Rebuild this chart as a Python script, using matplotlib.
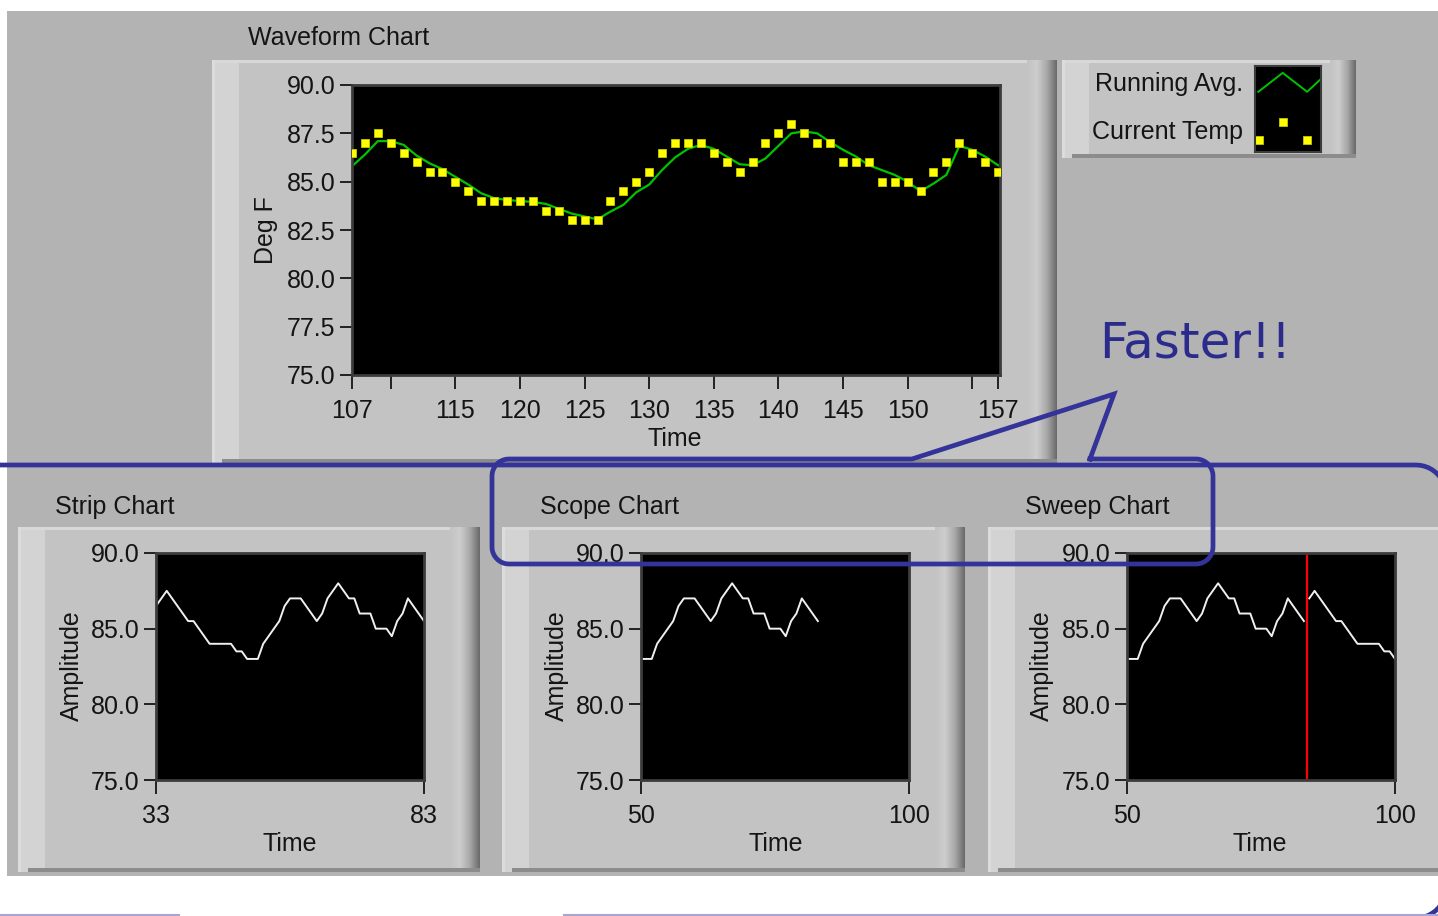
import numpy as np
import matplotlib
matplotlib.use('Agg')
import matplotlib.pyplot as plt
from matplotlib.patches import Rectangle
from matplotlib.colors import LinearSegmentedColormap
from matplotlib import font_manager

# ---------------- data ----------------
wave_time = list(range(107, 158))
current_temp = [86.5, 87.0, 87.5, 87.0, 86.5, 86.0, 85.5, 85.5, 85.0, 84.5,
                84.0, 84.0, 84.0, 84.0, 84.0, 83.5, 83.5, 83.0, 83.0, 83.0,
                84.0, 84.5, 85.0, 85.5, 86.5, 87.0, 87.0, 87.0, 86.5, 86.0,
                85.5, 86.0, 87.0, 87.5, 88.0, 87.5, 87.0, 87.0, 86.0, 86.0,
                86.0, 85.0, 85.0, 85.0, 84.5, 85.5, 86.0, 87.0, 86.5, 86.0,
                85.5]
running_avg = [85.8, 86.4, 87.1, 87.1, 86.9, 86.35, 85.95, 85.65, 85.25, 84.85,
               84.4, 84.15, 84.05, 84.0, 83.95, 83.85, 83.6, 83.35, 83.2, 83.05,
               83.45, 83.8, 84.45, 84.85, 85.6, 86.25, 86.7, 86.9, 86.7, 86.3,
               85.9, 85.85, 86.2, 86.85, 87.5, 87.6, 87.5, 87.05, 86.65, 86.3,
               85.85, 85.6, 85.35, 85.0, 84.5, 84.9, 85.35, 86.85, 86.65, 86.3,
               85.85]
wave_xticks = [107, 110, 115, 120, 125, 130, 135, 140, 145, 150, 155, 157]
wave_xticklabels = ['107', '', '115', '120', '125', '130', '135', '140', '145', '150', '', '157']
wave_yticks = [75.0, 77.5, 80.0, 82.5, 85.0, 87.5, 90.0]

strip_time = list(range(33, 84))
strip_values = [86.5, 87.0, 87.5, 87.0, 86.5, 86.0, 85.5, 85.5, 85.0, 84.5,
                84.0, 84.0, 84.0, 84.0, 84.0, 83.5, 83.5, 83.0, 83.0, 83.0,
                84.0, 84.5, 85.0, 85.5, 86.5, 87.0, 87.0, 87.0, 86.5, 86.0,
                85.5, 86.0, 87.0, 87.5, 88.0, 87.5, 87.0, 87.0, 86.0, 86.0,
                86.0, 85.0, 85.0, 85.0, 84.5, 85.5, 86.0, 87.0, 86.5, 86.0,
                85.5]
strip_xticks = [33, 83]

scope_time = list(range(50, 84))
scope_values = [83.0, 83.0, 83.0, 84.0, 84.5, 85.0, 85.5, 86.5, 87.0, 87.0,
                87.0, 86.5, 86.0, 85.5, 86.0, 87.0, 87.5, 88.0, 87.5, 87.0,
                87.0, 86.0, 86.0, 86.0, 85.0, 85.0, 85.0, 84.5, 85.5, 86.0,
                87.0, 86.5, 86.0, 85.5]
scope_xticks = [50, 100]

sweep_new_time = list(range(50, 84))
sweep_new_values = [83.0, 83.0, 83.0, 84.0, 84.5, 85.0, 85.5, 86.5, 87.0, 87.0,
                    87.0, 86.5, 86.0, 85.5, 86.0, 87.0, 87.5, 88.0, 87.5, 87.0,
                    87.0, 86.0, 86.0, 86.0, 85.0, 85.0, 85.0, 84.5, 85.5, 86.0,
                    87.0, 86.5, 86.0, 85.5]
sweep_old_time = list(range(84, 101))
sweep_old_values = [87.0, 87.5, 87.0, 86.5, 86.0, 85.5, 85.5, 85.0, 84.5, 84.0,
                    84.0, 84.0, 84.0, 84.0, 83.5, 83.5, 83.0]
sweep_cursor = [83.5]
small_yticks = [75.0, 80.0, 85.0, 90.0]

legend_labels = ['Running Avg.', 'Current Temp']
legend_line_x = [0.05, 0.42, 0.79, 1.0]
legend_line_y = [0.70, 0.92, 0.70, 0.85]
legend_pts_x = [0.06, 0.42, 0.79]
legend_pts_y = [0.14, 0.35, 0.14]

# ---------------- figure ----------------
W, H = 1438, 916
fig = plt.figure(figsize=(W / 100, H / 100), dpi=100)
fig.patch.set_facecolor('white')
plt.rcParams['font.family'] = ['Liberation Sans', 'DejaVu Sans']

TXT = '#141414'
FS = 18
PANEL = '#b3b3b3'
FRAME = '#c3c3c3'
BLUE = '#333399'


def px_axes(x0, y0, x1, y1, z=1):
    return fig.add_axes([x0 / W, 1 - y1 / H, (x1 - x0) / W, (y1 - y0) / H], zorder=z)


bg = px_axes(0, 0, W, H, z=0)
bg.axis('off')
bg.add_patch(Rectangle((7, 11), W - 7, 876 - 11, facecolor=PANEL, edgecolor='none'))

bev = LinearSegmentedColormap.from_list('bev', [FRAME, '#cdcdcd', '#a8a8a8', '#6a6a6a'])


def frame(x0, y0, x1, y1, gw=30):
    bg.add_patch(Rectangle((x0, y0), x1 - x0, y1 - y0, facecolor=FRAME, edgecolor='none'))
    bg.add_patch(Rectangle((x0, y0), 27, y1 - y0, facecolor='#d3d3d3', edgecolor='none'))
    bg.add_patch(Rectangle((x0, y0), x1 - x0, 3, facecolor='#d8d8d8', edgecolor='none'))
    bg.add_patch(Rectangle((x0, y0), 3, y1 - y0, facecolor='#dcdcdc', edgecolor='none'))
    grad = np.linspace(0, 1, 64).reshape(1, -1)
    bg.imshow(grad, extent=(x1 - gw, x1, y1, y0), cmap=bev, aspect='auto',
              interpolation='bilinear', zorder=2)
    bg.add_patch(Rectangle((x0 + 10, y1 - 4), x1 - x0 - 10, 4, facecolor='#8c8c8c',
                           edgecolor='none', zorder=3))


frame(212, 60, 1057, 463)
frame(1062, 60, 1356, 158, gw=26)
frame(18, 527, 480, 872)
frame(502, 527, 965, 872)
frame(988, 527, 1470, 872)

bg.set_xlim(0, W)
bg.set_ylim(H, 0)

# titles and labels
bg.text(248, 38, 'Waveform Chart', fontsize=FS, color=TXT, ha='left', va='center')
bg.text(55, 507, 'Strip Chart', fontsize=FS, color=TXT, ha='left', va='center')
bg.text(540, 507, 'Scope Chart', fontsize=FS, color=TXT, ha='left', va='center')
bg.text(1025, 507, 'Sweep Chart', fontsize=FS, color=TXT, ha='left', va='center')
bg.text(266, 230, 'Deg F', fontsize=FS, color=TXT, ha='center', va='center', rotation=90)
bg.text(675, 439, 'Time', fontsize=FS, color=TXT, ha='center', va='center')
for ax_x, tx in [(72, 290), (557, 776), (1042, 1260)]:
    bg.text(ax_x, 666, 'Amplitude', fontsize=FS, color=TXT, ha='center', va='center', rotation=90)
    bg.text(tx, 844, 'Time', fontsize=FS, color=TXT, ha='center', va='center')
bg.text(1243, 84, legend_labels[0], fontsize=FS, color=TXT, ha='right', va='center')
bg.text(1243, 132, legend_labels[1], fontsize=FS, color=TXT, ha='right', va='center')


def style(ax, xlim, yticks, xticks, xticklabels=None):
    ax.set_facecolor('black')
    ax.set_xlim(*xlim)
    ax.set_ylim(75, 90)
    for s in ax.spines.values():
        s.set_color('#3c3c3c')
        s.set_linewidth(2)
    ax.set_yticks(yticks)
    ax.set_yticklabels(['%.1f' % v for v in yticks])
    ax.set_xticks(xticks)
    ax.set_xticklabels(xticklabels if xticklabels is not None else [str(v) for v in xticks])
    ax.tick_params(axis='y', direction='out', length=9, width=1.3, pad=3,
                   labelsize=FS, colors=TXT)
    ax.tick_params(axis='x', direction='out', length=10, width=1.3, pad=7,
                   labelsize=FS, colors=TXT)


# waveform chart
wave = px_axes(352, 85, 1000, 375, z=2)
style(wave, (107, 157.15), wave_yticks, wave_xticks, wave_xticklabels)
wave.plot(wave_time, running_avg, color='#00c400', lw=1.6, zorder=2)
wave.plot(wave_time, current_temp, ls='none', marker='s', ms=5.4,
          mfc='#ffff00', mec='#c8c800', mew=0.6, zorder=3)

# legend glyph
lg = px_axes(1255, 66, 1321, 152, z=2)
lg.set_facecolor('black')
lg.set_xlim(0, 1)
lg.set_ylim(0, 1)
lg.set_xticks([])
lg.set_yticks([])
for s in lg.spines.values():
    s.set_color('#3c3c3c')
    s.set_linewidth(1.5)
lg.plot(legend_line_x, legend_line_y, color='#00c400', lw=1.4, clip_on=False)
lg.plot(legend_pts_x, legend_pts_y, ls='none', marker='s', ms=5.4,
        mfc='#ffff00', mec='#c8c800', mew=0.6)

# strip chart
strip = px_axes(156, 553, 424, 780, z=2)
style(strip, (33, 83), small_yticks, strip_xticks)
strip.plot(strip_time, strip_values, color='#f0f0f0', lw=1.4)

# scope chart
scope = px_axes(641, 553, 909, 780, z=2)
style(scope, (50, 100), small_yticks, scope_xticks)
scope.plot(scope_time, scope_values, color='#f0f0f0', lw=1.4)

# sweep chart
sweep = px_axes(1127, 553, 1395, 780, z=2)
style(sweep, (50, 100), small_yticks, scope_xticks)
sweep.plot(sweep_new_time, sweep_new_values, color='#f0f0f0', lw=1.4)
sweep.plot(sweep_old_time, sweep_old_values, color='#f0f0f0', lw=1.4)
sweep.axvline(sweep_cursor[0], color='#ff0000', lw=1.6)

# ---------------- overlay annotations ----------------
top = px_axes(0, 0, W, H, z=10)
top.set_facecolor('none')
top.axis('off')
top.set_xlim(0, W)
top.set_ylim(H, 0)


def arc(cx, cy, r, a0, a1, n=12):
    a = np.radians(np.linspace(a0, a1, n))
    return list(cx + r * np.cos(a)), list(cy + r * np.sin(a))


# callout box with pointer
bx0, by0, bx1, by1, r = 492, 459, 1213, 564, 17
xs, ys = [1090], [by0]
for (cx, cy, a0, a1) in [(bx1 - r, by0 + r, -90, 0), (bx1 - r, by1 - r, 0, 90),
                         (bx0 + r, by1 - r, 90, 180), (bx0 + r, by0 + r, 180, 270)]:
    ax_, ay_ = arc(cx, cy, r, a0, a1)
    xs += ax_
    ys += ay_
xs += [912, 1114, 1090]
ys += [by0, 394, by0]
top.plot(xs, ys, color=BLUE, lw=3.4, solid_joinstyle='miter')

# big outer rounded shape
R = 30
xs2, ys2 = [-60], [465]
for (cx, cy, a0, a1) in [(1446 - R, 465 + R, -90, 0), (1446 - R, 918 - R, 0, 90)]:
    ax_, ay_ = arc(cx, cy, R, a0, a1)
    xs2 += ax_
    ys2 += ay_
xs2 += [-60]
ys2 += [918]
top.plot(xs2, ys2, color=BLUE, lw=3.4)

# faint line at the very bottom
top.plot([0, 179], [915, 915], color='#aaa4d4', lw=1.5)
top.plot([564, 1438], [915, 915], color='#aaa4d4', lw=1.5)

# "Faster!!"
try:
    font_manager.findfont('Liberation Sans Narrow', fallback_to_default=False)
    ffam, fsz = 'Liberation Sans Narrow', 47
except Exception:
    ffam, fsz = 'DejaVu Sans', 36
top.text(1099, 358, 'Faster!!', fontsize=fsz, color='#2b2b8c', family=ffam,
         ha='left', va='baseline')

fig.savefig('out.png', dpi=100, facecolor='white')
